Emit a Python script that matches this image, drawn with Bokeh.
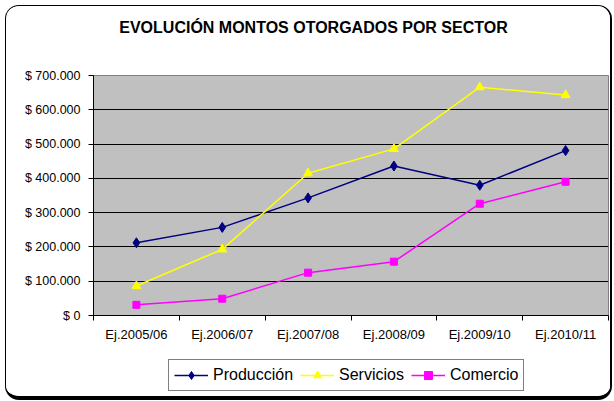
from bokeh.plotting import figure
from bokeh.layouts import column
from bokeh.models import (FixedTicker, Legend, LegendItem, Range1d, ColumnDataSource, Label)
from bokeh.embed import file_html
from bokeh.resources import INLINE

# ---- data ----
categories = ["Ej.2005/06", "Ej.2006/07", "Ej.2007/08", "Ej.2008/09", "Ej.2009/10", "Ej.2010/11"]
produccion = [212000, 257000, 343000, 436000, 380000, 481000]
servicios = [86000, 193000, 415000, 486000, 666000, 643000]
comercio = [31000, 49000, 125000, 157000, 326000, 390000]
y_ticks = [0, 100000, 200000, 300000, 400000, 500000, 600000, 700000]
y_tick_labels = ["$ 0", "$ 100.000", "$ 200.000", "$ 300.000", "$ 400.000",
                 "$ 500.000", "$ 600.000", "$ 700.000"]
series_names = ["Producción", "Servicios", "Comercio"]
title_text = "EVOLUCIÓN MONTOS OTORGADOS POR SECTOR"

FONT = "Liberation Sans"
W = 604
LEFT, RIGHT = 87, 2
FRAME_W = W - LEFT - RIGHT
COLORS = ["#000080", "#FFFF00", "#FF00FF"]
MARKERS = [("diamond", 10), ("triangle", 9), ("square", 7)]

xs = [i + 0.5 for i in range(len(categories))]
src = ColumnDataSource(dict(x=xs, s0=produccion, s1=servicios, s2=comercio))


def bare(fig):
    fig.grid.visible = False
    fig.outline_line_color = None
    fig.background_fill_color = "white"
    fig.border_fill_color = "white"


# ---- title strip (frame aligned with main chart frame) ----
H0 = 61
p0 = figure(width=W, height=H0, output_backend="svg", toolbar_location=None,
            x_range=Range1d(0, FRAME_W), y_range=Range1d(0, H0),
            min_border_left=LEFT, min_border_right=RIGHT, min_border_top=0, min_border_bottom=0,
            x_axis_location=None, y_axis_location=None)
bare(p0)
p0.add_layout(Label(x=220, y=40.5, text=title_text, text_align="center",
                    text_baseline="middle", text_font=FONT, text_font_size="16px",
                    text_font_style="bold", text_color="black"))

# ---- main chart ----
H1 = 278
p = figure(width=W, height=H1, output_backend="svg", toolbar_location=None,
           x_range=Range1d(0, len(categories)), y_range=Range1d(0, 700000),
           min_border_left=LEFT, min_border_right=RIGHT, min_border_top=8, min_border_bottom=30)

p.background_fill_color = "#C0C0C0"
p.border_fill_color = "white"
p.outline_line_color = "#808080"
p.outline_line_width = 1

p.xgrid.visible = False
p.ygrid.ticker = FixedTicker(ticks=y_ticks)
p.ygrid.grid_line_color = "black"
p.ygrid.grid_line_width = 1

p.yaxis.ticker = FixedTicker(ticks=y_ticks)
p.yaxis.major_label_overrides = {t: l for t, l in zip(y_ticks, y_tick_labels)}
p.yaxis.major_label_text_font = FONT
p.yaxis.major_label_text_font_size = "12.5px"
p.yaxis.major_label_text_color = "black"
p.yaxis.major_tick_out = 5
p.yaxis.major_tick_in = 0
p.yaxis.minor_tick_line_color = None
p.yaxis.axis_line_color = "black"
p.yaxis.major_tick_line_color = "black"
p.yaxis.major_label_standoff = 8

p.xaxis.ticker = FixedTicker(ticks=xs, minor_ticks=list(range(len(categories) + 1)))
p.xaxis.major_label_overrides = {x: c for x, c in zip(xs, categories)}
p.xaxis.major_label_text_font = FONT
p.xaxis.major_label_text_font_size = "13px"
p.xaxis.major_label_text_color = "black"
p.xaxis.major_tick_out = 0
p.xaxis.major_tick_in = 0
p.xaxis.minor_tick_out = 5
p.xaxis.minor_tick_in = 0
p.xaxis.minor_tick_line_color = "black"
p.xaxis.axis_line_color = "black"
p.xaxis.major_label_standoff = 6

for k in range(3):
    p.line("x", f"s{k}", source=src, line_color=COLORS[k], line_width=1.5)
    p.scatter("x", f"s{k}", source=src, marker=MARKERS[k][0], size=MARKERS[k][1],
              fill_color=COLORS[k], line_color=COLORS[k])

# ---- legend strip (series drawn out of view; only the legend shows) ----
H2 = 51
p2 = figure(width=W, height=H2, output_backend="svg", toolbar_location=None,
            x_range=Range1d(100, 101), y_range=Range1d(-2, -1),
            min_border_left=LEFT, min_border_right=RIGHT, min_border_top=0, min_border_bottom=0,
            x_axis_location=None, y_axis_location=None)
bare(p2)
items = []
for k in range(3):
    lr = p2.line("x", f"s{k}", source=src, line_color=COLORS[k], line_width=1.5)
    mr = p2.scatter("x", f"s{k}", source=src, marker=MARKERS[k][0], size=MARKERS[k][1],
                    fill_color=COLORS[k], line_color=COLORS[k])
    items.append(LegendItem(label=series_names[k], renderers=[lr, mr], index=0))

legend = Legend(items=items, orientation="horizontal", location=(75, 5),
                border_line_color="black", border_line_width=1,
                background_fill_color="white", background_fill_alpha=1,
                label_text_font=FONT, label_text_font_size="16px",
                label_text_color="black",
                glyph_width=34, glyph_height=20, label_standoff=5, spacing=7,
                padding=5, margin=0)
p2.add_layout(legend, "center")

layout = column(p0, p, p2, spacing=0, width=W, height=H0 + H1 + H2)
layout.styles = {"border-style": "solid", "border-color": "black",
                 "border-width": "1px 2px 4px 1px", "border-radius": "14px",
                 "margin-left": "5px", "margin-top": "5px",
                 "box-sizing": "content-box",
                 "width": f"{W}px", "max-width": f"{W}px",
                 "overflow": "hidden", "background-color": "white"}

open("out.html", "w").write(file_html(layout, INLINE))
